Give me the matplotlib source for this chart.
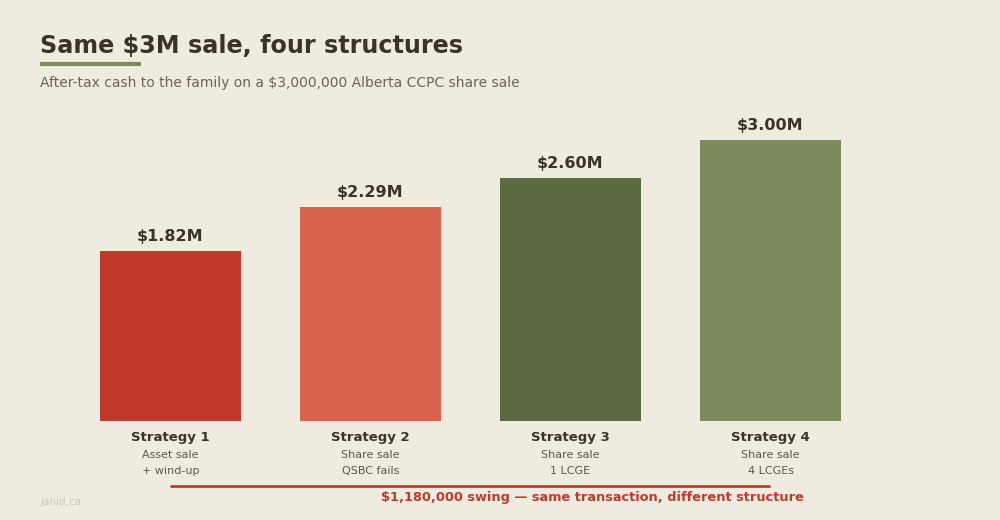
import matplotlib
matplotlib.use("Agg")
import matplotlib.pyplot as plt
from matplotlib.lines import Line2D

# data
strategies = ["Strategy 1", "Strategy 2", "Strategy 3", "Strategy 4"]
line1 = ["Asset sale", "Share sale", "Share sale", "Share sale"]
line2 = ["+ wind-up", "QSBC fails", "1 LCGE", "4 LCGEs"]
cash = [1.82, 2.29, 2.60, 3.00]  # $M after tax
colors = ["#C0392B", "#D9654C", "#5B6B3F", "#7B8B5C"]

bg = "#F0EBE0"
dark = "#3A3328"

fig = plt.figure(figsize=(10, 5.2), dpi=100, facecolor=bg)
# axes from x=70.5..870.5 px, y=421..110 px (from top)
ax = fig.add_axes([0.0705, (520 - 421) / 520, 0.8, 311 / 520])
ax.set_facecolor(bg)

x = range(len(cash))
bars = ax.bar(x, cash, width=0.705, color=colors)
ax.set_xlim(-0.5, 3.5)
ax.set_ylim(0, 311 / 93.6)
ax.axis("off")

for rect, v in zip(bars, cash):
    ax.annotate("${:.2f}M".format(v),
                xy=(rect.get_x() + rect.get_width() / 2, v),
                xytext=(0, 5), textcoords="offset points",
                ha="center", va="bottom", fontsize=11.5,
                fontweight="bold", color=dark)

# category labels below bars
for i, (s, a, b) in enumerate(zip(strategies, line1, line2)):
    ax.annotate(s, xy=(i, 0), xytext=(0, -16), textcoords="offset pixels",
                ha="center", va="center", fontsize=9.5, fontweight="bold",
                color=dark, annotation_clip=False)
    ax.annotate(a, xy=(i, 0), xytext=(0, -34), textcoords="offset pixels",
                ha="center", va="center", fontsize=8, color="#5E564B",
                annotation_clip=False)
    ax.annotate(b, xy=(i, 0), xytext=(0, -50), textcoords="offset pixels",
                ha="center", va="center", fontsize=8, color="#5E564B",
                annotation_clip=False)

# title and subtitle
fig.text(0.04, 1 - 46 / 520, "Same $3M sale, four structures", fontsize=17.2,
         fontweight="bold", color=dark, va="center", ha="left")
fig.add_artist(Line2D([0.04, 0.141], [1 - 64 / 520] * 2, color="#7B8B5C",
                      linewidth=3, solid_capstyle="butt"))
fig.text(0.04, 1 - 83 / 520,
         "After-tax cash to the family on a $3,000,000 Alberta CCPC share sale",
         fontsize=10, color="#6B6358", va="center", ha="left")

# swing bracket
fig.add_artist(Line2D([0.170, 0.770], [1 - 486 / 520] * 2, color="#C0392B",
                      linewidth=2, solid_capstyle="butt"))
fig.text(0.5925, 1 - 497 / 520,
         "$1,180,000 swing \u2014 same transaction, different structure",
         fontsize=9.3, fontweight="bold", color="#C0392B",
         ha="center", va="center")

fig.text(0.04, 1 - 502 / 520, "jahid.ca", fontsize=7.5, color="#CFC8BA",
         ha="left", va="center")

fig.savefig("out.png", dpi=100, facecolor=bg)
